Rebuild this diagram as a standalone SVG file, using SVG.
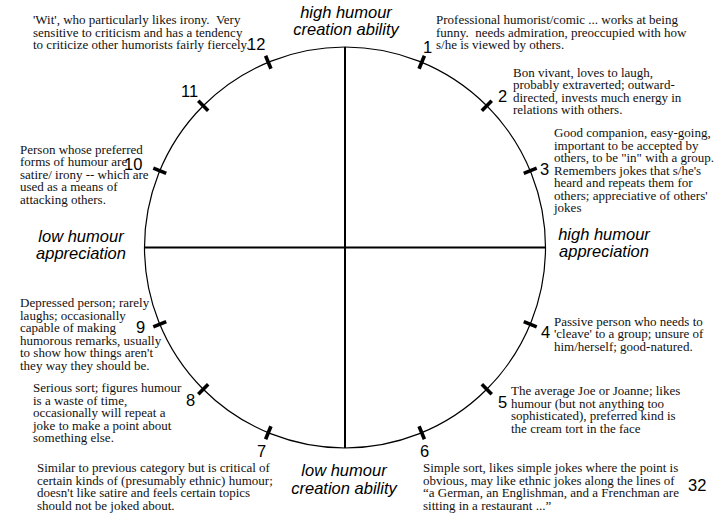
<svg xmlns="http://www.w3.org/2000/svg" width="724" height="514" viewBox="0 0 724 514">
  <style>
    .axis { stroke: #000; stroke-width: 2; fill: none; }
    .ring { stroke: #000; stroke-width: 1.2; fill: none; }
    .tick { stroke: #000; stroke-width: 3.6; }
    .desc { font-family: "Liberation Serif", "Times New Roman", serif; font-size: 13px; fill: #111; }
    .num { font-family: "Liberation Sans", Arial, sans-serif; font-size: 16.5px; fill: #000; }
    .lab { font-family: "Liberation Sans", Arial, sans-serif; font-size: 16.5px; font-style: italic; fill: #000; text-anchor: middle; }
  </style>
  <rect width="724" height="514" fill="#fff"/>

  <!-- circle and the two axes -->
  <g id="connectors">
    <circle class="ring" cx="345" cy="247.5" r="200.5"/>
    <line class="axis" x1="345" y1="47" x2="345" y2="448"/>
    <line class="axis" x1="144.5" y1="247.5" x2="545.5" y2="247.5"/>
  </g>

  <!-- axis captions -->
  <g id="label-top">
    <text class="lab" x="346" y="18">high humour</text>
    <text class="lab" x="346" y="35">creation ability</text>
  </g>
  <g id="label-bottom">
    <text class="lab" x="344" y="476">low humour</text>
    <text class="lab" x="344" y="494">creation ability</text>
  </g>
  <g id="label-left">
    <text class="lab" x="81" y="242">low humour</text>
    <text class="lab" x="81" y="259">appreciation</text>
  </g>
  <g id="label-right">
    <text class="lab" x="604" y="240">high humour</text>
    <text class="lab" x="604" y="257">appreciation</text>
  </g>

  <!-- twelve humour types around the circle -->
  <g id="type-1">
    <line class="tick" x1="345" y1="40" x2="345" y2="54" transform="rotate(22.5 345 247.5)"/>
    <text class="num" x="423" y="53">1</text>
    <text class="desc">
      <tspan x="436" y="24">Professional humorist/comic ... works at being</tspan>
      <tspan x="436" y="36.5">funny.&#160; needs admiration, preoccupied with how</tspan>
      <tspan x="436" y="49">s/he is viewed by others.</tspan>
    </text>
  </g>
  <g id="type-2">
    <line class="tick" x1="345" y1="40" x2="345" y2="54" transform="rotate(45 345 247.5)"/>
    <text class="num" x="498" y="102">2</text>
    <text class="desc">
      <tspan x="513" y="76.5">Bon vivant, loves to laugh,</tspan>
      <tspan x="513" y="89">probably extraverted; outward-</tspan>
      <tspan x="513" y="101.5">directed, invests much energy in</tspan>
      <tspan x="513" y="114">relations with others.</tspan>
    </text>
  </g>
  <g id="type-3">
    <line class="tick" x1="345" y1="40" x2="345" y2="54" transform="rotate(67.5 345 247.5)"/>
    <text class="num" x="540" y="175">3</text>
    <text class="desc">
      <tspan x="554" y="137">Good companion, easy-going,</tspan>
      <tspan x="554" y="149.5">important to be accepted by</tspan>
      <tspan x="554" y="162">others, to be "in" with a group.</tspan>
      <tspan x="554" y="174.5">Remembers jokes that s/he's</tspan>
      <tspan x="554" y="187">heard and repeats them for</tspan>
      <tspan x="554" y="199.5">others; appreciative of others'</tspan>
      <tspan x="554" y="212">jokes</tspan>
    </text>
  </g>
  <g id="type-4">
    <line class="tick" x1="345" y1="40" x2="345" y2="54" transform="rotate(112.5 345 247.5)"/>
    <text class="num" x="541" y="338">4</text>
    <text class="desc">
      <tspan x="554" y="325.5">Passive person who needs to</tspan>
      <tspan x="554" y="338">'cleave' to a group; unsure of</tspan>
      <tspan x="554" y="350.5">him/herself; good-natured.</tspan>
    </text>
  </g>
  <g id="type-5">
    <line class="tick" x1="345" y1="40" x2="345" y2="54" transform="rotate(135 345 247.5)"/>
    <text class="num" x="498" y="408">5</text>
    <text class="desc">
      <tspan x="511" y="395">The average Joe or Joanne; likes</tspan>
      <tspan x="511" y="407.5">humour (but not anything too</tspan>
      <tspan x="511" y="420">sophisticated), preferred kind is</tspan>
      <tspan x="511" y="432.5">the cream tort in the face</tspan>
    </text>
  </g>
  <g id="type-6">
    <line class="tick" x1="345" y1="40" x2="345" y2="54" transform="rotate(157.5 345 247.5)"/>
    <text class="num" x="420" y="457">6</text>
    <text class="desc">
      <tspan x="423" y="472">Simple sort, likes simple jokes where the point is</tspan>
      <tspan x="423" y="484.5">obvious, may like ethnic jokes along the lines of</tspan>
      <tspan x="423" y="497">“a German, an Englishman, and a Frenchman are</tspan>
      <tspan x="423" y="509.5">sitting in a restaurant ...”</tspan>
    </text>
  </g>
  <g id="type-7">
    <line class="tick" x1="345" y1="40" x2="345" y2="54" transform="rotate(202.5 345 247.5)"/>
    <text class="num" x="257" y="457">7</text>
    <text class="desc">
      <tspan x="37" y="472">Similar to previous category but is critical of</tspan>
      <tspan x="37" y="484.5">certain kinds of (presumably ethnic) humour;</tspan>
      <tspan x="37" y="497">doesn't like satire and feels certain topics</tspan>
      <tspan x="37" y="509.5">should not be joked about.</tspan>
    </text>
  </g>
  <g id="type-8">
    <line class="tick" x1="345" y1="40" x2="345" y2="54" transform="rotate(225 345 247.5)"/>
    <text class="num" x="186" y="406">8</text>
    <text class="desc">
      <tspan x="33" y="392">Serious sort; figures humour</tspan>
      <tspan x="33" y="404.5">is a waste of time,</tspan>
      <tspan x="33" y="417">occasionally will repeat a</tspan>
      <tspan x="33" y="429.5">joke to make a point about</tspan>
      <tspan x="33" y="442">something else.</tspan>
    </text>
  </g>
  <g id="type-9">
    <line class="tick" x1="345" y1="40" x2="345" y2="54" transform="rotate(247.5 345 247.5)"/>
    <text class="num" x="136" y="333">9</text>
    <text class="desc">
      <tspan x="20" y="307">Depressed person; rarely</tspan>
      <tspan x="20" y="319.5">laughs; occasionally</tspan>
      <tspan x="20" y="332">capable of making</tspan>
      <tspan x="20" y="344.5">humorous remarks, usually</tspan>
      <tspan x="20" y="357">to show how things aren't</tspan>
      <tspan x="20" y="369.5">they way they should be.</tspan>
    </text>
  </g>
  <g id="type-10">
    <line class="tick" x1="345" y1="40" x2="345" y2="54" transform="rotate(292.5 345 247.5)"/>
    <text class="num" x="124" y="170">10</text>
    <text class="desc">
      <tspan x="20" y="153.5">Person whose preferred</tspan>
      <tspan x="20" y="166">forms of humour are</tspan>
      <tspan x="20" y="178.5">satire/ irony -- which are</tspan>
      <tspan x="20" y="191">used as a means of</tspan>
      <tspan x="20" y="203.5">attacking others.</tspan>
    </text>
  </g>
  <g id="type-11">
    <line class="tick" x1="345" y1="40" x2="345" y2="54" transform="rotate(315 345 247.5)"/>
    <text class="num" x="181" y="97">11</text>
  </g>
  <g id="type-12">
    <line class="tick" x1="345" y1="40" x2="345" y2="54" transform="rotate(337.5 345 247.5)"/>
    <text class="num" x="247" y="50">12</text>
    <text class="desc">
      <tspan x="33" y="24">'Wit', who particularly likes irony.&#160; Very</tspan>
      <tspan x="33" y="36.5">sensitive to criticism and has a tendency</tspan>
      <tspan x="33" y="49">to criticize other humorists fairly fiercely.</tspan>
    </text>
  </g>

  <!-- page number -->
  <g id="page-number">
    <text class="num" x="688" y="491">32</text>
  </g>
</svg>
